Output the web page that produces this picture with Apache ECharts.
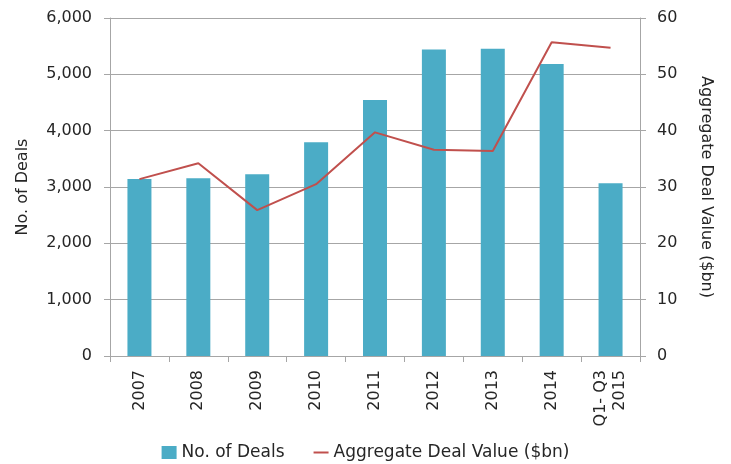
<!doctype html>
<html>
<head>
  <meta charset="utf-8">
  <script src="https://cdn.jsdelivr.net/npm/echarts@6/dist/echarts.min.js"></script>
  <style>
    body { margin: 0; background: #fff; }
    #main { width: 731px; height: 464px; }
  </style>
</head>
<body>
  <div id="main"></div>
  <script>
  var years = ['2007', '2008', '2009', '2010', '2011', '2012', '2013', '2014', 'Q1- Q3\n2015'];
  var deals = [3140, 3155, 3225, 3795, 4545, 5440, 5455, 5185, 3065];
  var dealValue = [31.4, 34.2, 25.9, 30.5, 39.7, 36.6, 36.4, 55.7, 54.7];

  var font = 'DejaVu Sans';
  var txt = '#262626';
  var gridColor = '#a6a6a6';

  var option = {
    animation: false,
    textStyle: { fontFamily: font },
    grid: { left: 110, right: 91, top: 18, bottom: 108 },
    legend: {
      top: 439,
      left: 'center',
      itemGap: 28,
      itemWidth: 15,
      itemHeight: 13,
      textStyle: { fontSize: 17, color: txt, fontFamily: font },
      data: [
        { name: 'No. of Deals', icon: 'rect' },
        { name: 'Aggregate Deal Value ($bn)', itemStyle: { opacity: 0 } }
      ]
    },
    xAxis: {
      type: 'category',
      data: years,
      axisLine: { lineStyle: { color: gridColor } },
      axisTick: { show: true, length: 6, lineStyle: { color: gridColor } },
      axisLabel: { rotate: 90, fontSize: 16, color: txt, margin: 14, lineHeight: 19 }
    },
    yAxis: [
      {
        type: 'value',
        min: 0, max: 6000, interval: 1000,
        name: 'No. of Deals',
        nameLocation: 'middle',
        nameGap: 79,
        nameTextStyle: { fontSize: 16, color: txt },
        axisLine: { show: true, lineStyle: { color: gridColor } },
        axisTick: { show: true, length: 6, lineStyle: { color: gridColor } },
        splitLine: { lineStyle: { color: gridColor } },
        axisLabel: {
          fontSize: 16, color: txt, margin: 18,
          formatter: function (v) { return v.toLocaleString('en-US'); }
        }
      },
      {
        type: 'value',
        min: 0, max: 60, interval: 10,
        name: 'Aggregate Deal Value ($bn)',
        nameLocation: 'middle',
        nameGap: 58,
        nameRotate: -90,
        nameTextStyle: { fontSize: 16, color: txt },
        axisLine: { show: true, lineStyle: { color: gridColor } },
        axisTick: { show: true, length: 6, lineStyle: { color: gridColor } },
        splitLine: { show: false },
        axisLabel: { fontSize: 16, color: txt, margin: 17 }
      }
    ],
    series: [
      {
        name: 'No. of Deals',
        type: 'bar',
        barWidth: 24,
        itemStyle: { color: '#4bacc6' },
        data: deals
      },
      {
        name: 'Aggregate Deal Value ($bn)',
        type: 'line',
        yAxisIndex: 1,
        symbol: 'none',
        lineStyle: { color: '#c0504d', width: 2 },
        itemStyle: { color: '#c0504d' },
        data: dealValue
      }
    ]
  };

  var myChart = echarts.init(document.getElementById('main'));
  myChart.setOption(option);
  </script>
</body>
</html>
